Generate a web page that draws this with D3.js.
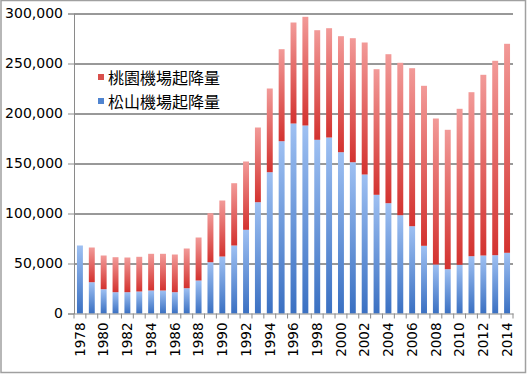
<!DOCTYPE html>
<html>
<head>
<meta charset="utf-8">
<script src="https://cdn.jsdelivr.net/npm/d3@7"></script>
<style>
  body { margin: 0; background: #fff; }
  svg { display: block; }
  .tick text { font-family: "DejaVu Sans", sans-serif; fill: #000; }
  .legend text { font-family: "Noto Sans CJK TC", sans-serif; font-size: 16px; }
</style>
</head>
<body>
<svg width="527" height="374"></svg>
<script>
const years = d3.range(1978, 2015).map(String);
// 松山機場起降量 (blue, bottom)
const songshan = [68000, 31300, 24300, 21300, 21300, 22000, 23000, 23000, 21300, 25300,
  33000, 51300, 57000, 68000, 83700, 111300, 141300, 172300, 190000, 188000,
  173700, 176000, 161300, 151300, 139000, 118700, 110300, 98300, 87300, 67700,
  49000, 44300, 48700, 57300, 58000, 58300, 60700];
// 桃園機場起降量 (red, top) — stacked totals
const totals = [68000, 66000, 58000, 56300, 56000, 56700, 59700, 59700, 59000, 65000,
  76000, 100300, 113000, 130300, 152000, 186000, 225000, 264300, 291000, 296700,
  283300, 285300, 277300, 275300, 271000, 244300, 259300, 250700, 245300, 227700,
  195000, 183700, 204700, 221300, 238700, 252700, 269700];
const taoyuan = totals.map((t, i) => t - songshan[i]);
const yTicks = [0, 50000, 100000, 150000, 200000, 250000, 300000];
const seriesNames = ['桃園機場起降量', '松山機場起降量'];

const svg = d3.select('svg');
const width = +svg.attr('width');
const height = +svg.attr('height');
const margin = { top: 13.5, right: 14, bottom: 60.5, left: 74 };
const innerWidth = width - margin.left - margin.right;
const innerHeight = height - margin.top - margin.bottom;

// outer frame
svg.append('rect')
  .attr('x', 1).attr('y', 0.5)
  .attr('width', width - 2.5).attr('height', height - 2)
  .attr('fill', 'none')
  .attr('stroke', '#a0a0a0')
  .attr('stroke-width', 1.5);

const defs = svg.append('defs');
const grad = (id, top, bottom) => {
  const g = defs.append('linearGradient')
    .attr('id', id).attr('x1', 0).attr('y1', 0).attr('x2', 0).attr('y2', 1);
  g.append('stop').attr('offset', '0%').attr('stop-color', top);
  g.append('stop').attr('offset', '100%').attr('stop-color', bottom);
};
grad('gBlue', '#9ec0f2', '#3a70c2');
grad('gRed', '#f29a98', '#d3322f');

const data = years.map((y, i) => ({ year: y, songshan: songshan[i], taoyuan: taoyuan[i] }));
const stack = d3.stack().keys(['songshan', 'taoyuan'])(data);

const xScale = d3.scaleBand()
  .domain(years)
  .range([0, innerWidth])
  .paddingInner(0.5)
  .paddingOuter(0.25);

const yScale = d3.scaleLinear()
  .domain([0, 300000])
  .range([innerHeight, 0]);

const g = svg.append('g')
  .attr('transform', `translate(${margin.left},${margin.top})`);

// gridlines
g.append('g')
  .selectAll('line').data(yTicks.slice(1))
  .enter().append('line')
    .attr('x1', 0).attr('x2', innerWidth)
    .attr('y1', d => Math.round(yScale(d)) + 0.5)
    .attr('y2', d => Math.round(yScale(d)) + 0.5)
    .attr('stroke', '#333')
    .attr('stroke-width', 1);

// bars
const fills = { songshan: 'url(#gBlue)', taoyuan: 'url(#gRed)' };
stack.forEach(layer => {
  g.append('g')
    .selectAll('rect').data(layer)
    .enter().append('rect')
      .attr('x', d => xScale(d.data.year))
      .attr('width', xScale.bandwidth())
      .attr('y', d => yScale(d[1]))
      .attr('height', d => yScale(d[0]) - yScale(d[1]))
      .attr('fill', fills[layer.key]);
});

// y axis
const yAxis = d3.axisLeft(yScale)
  .tickValues(yTicks)
  .tickFormat(d3.format(','))
  .tickSize(6)
  .tickPadding(5);
const yAxisG = g.append('g').call(yAxis);
yAxisG.selectAll('text').style('font-size', '14px');
yAxisG.selectAll('line,.domain').attr('stroke', '#8a8a8a');

// x axis
const xAxis = d3.axisBottom(xScale)
  .tickValues(years.filter((d, i) => i % 2 === 0))
  .tickSize(0)
  .tickPadding(0);
const xAxisG = g.append('g')
  .attr('transform', `translate(0,${innerHeight})`)
  .call(xAxis);
xAxisG.select('.domain').attr('stroke', '#8a8a8a');
xAxisG.selectAll('text')
  .style('font-size', '13.5px')
  .attr('transform', 'rotate(-90)')
  .attr('text-anchor', 'end')
  .attr('x', -9)
  .attr('y', 0)
  .attr('dy', '0.35em');

// x tick marks at band boundaries
const step = xScale.step();
g.append('g')
  .selectAll('line').data(d3.range(years.length + 1))
  .enter().append('line')
    .attr('x1', i => xScale(years[0]) - step * 0.25 + i * step)
    .attr('x2', i => xScale(years[0]) - step * 0.25 + i * step)
    .attr('y1', innerHeight)
    .attr('y2', innerHeight + 5)
    .attr('stroke', '#8a8a8a');

// legend
const legend = svg.append('g').attr('class', 'legend');
const legendColors = ['#d9504c', '#4f84d0'];
seriesNames.forEach((name, i) => {
  const ly = 77 + i * 24;
  legend.append('rect')
    .attr('x', 98).attr('y', ly - 3)
    .attr('width', 6).attr('height', 6)
    .attr('fill', legendColors[i]);
  legend.append('text')
    .attr('x', 108).attr('y', ly + 7)
    .text(name);
});
</script>
</body>
</html>
